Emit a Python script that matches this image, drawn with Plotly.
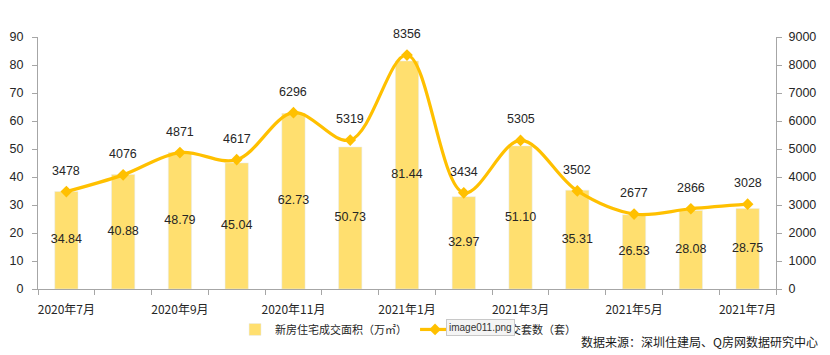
import plotly.graph_objects as go

months = ["2020年7月", "2020年8月", "2020年9月", "2020年10月", "2020年11月", "2020年12月",
          "2021年1月", "2021年2月", "2021年3月", "2021年4月", "2021年5月", "2021年6月", "2021年7月"]
area = [34.84, 40.88, 48.79, 45.04, 62.73, 50.73, 81.44, 32.97, 51.10, 35.31, 26.53, 28.08, 28.75]
units = [3478, 4076, 4871, 4617, 6296, 5319, 8356, 3434, 5305, 3502, 2677, 2866, 3028]
area_labels = ["34.84", "40.88", "48.79", "45.04", "62.73", "50.73", "81.44", "32.97", "51.10", "35.31", "26.53", "28.08", "28.75"]
left_ticks = [0, 10, 20, 30, 40, 50, 60, 70, 80, 90]
right_ticks = [0, 1000, 2000, 3000, 4000, 5000, 6000, 7000, 8000, 9000]

xs = list(range(len(months)))
BAR = "#FFDF6F"
LINE = "#FFC000"
TXT = "#262626"
AX = "#A6A6A6"
FONT = "Liberation Sans, Noto Sans CJK SC, sans-serif"
CJK = "Noto Sans CJK SC, sans-serif"

fig = go.Figure()
fig.add_trace(go.Bar(x=xs, y=area, name="新房住宅成交面积（万㎡）", marker_color=BAR,
                     width=0.41, yaxis="y"))
fig.add_trace(go.Scatter(x=xs, y=[v / 2 for v in area], mode="text", text=area_labels,
                         textfont=dict(size=12.5, color=TXT, family=FONT), showlegend=False,
                         hoverinfo="skip", yaxis="y"))
fig.add_trace(go.Scatter(x=xs, y=units, name="新房住宅成交套数（套）", mode="lines+markers",
                         line=dict(color=LINE, width=3.2, shape="spline", smoothing=1.0),
                         marker=dict(symbol="diamond", size=9, color=LINE),
                         yaxis="y2"))

for x, v in zip(xs, units):
    fig.add_annotation(x=x, y=v, yref="y2", xref="x", text=str(v), showarrow=False,
                       yshift=21, yanchor="middle",
                       font=dict(size=12.5, color=TXT, family=FONT))

fig.add_annotation(xref="paper", yref="paper", x=0.600, y=-0.185, text="image011.png",
                   showarrow=False, font=dict(size=10, color="#333333", family=FONT),
                   bgcolor="#F4F4F4", bordercolor="#C8C8C8", borderwidth=1, borderpad=2)
fig.add_annotation(xref="paper", yref="paper", x=1.0596, y=-0.210, xanchor="right",
                   yanchor="middle",
                   text="数据来源：深圳住建局、Q房网数据研究中心", showarrow=False,
                   font=dict(size=12, color="#1a1a1a", family=CJK))

# page has an 8px body margin, so the figure is drawn 8px smaller and offset
fig.update_layout(
    width=822, height=347,
    margin=dict(l=30, r=54, t=29, b=66, autoexpand=False),
    paper_bgcolor="white", plot_bgcolor="white",
    font=dict(family=FONT, color=TXT, size=12),
    showlegend=True,
    legend=dict(orientation="h", x=0.267, y=-0.103, xanchor="left", yanchor="top",
                font=dict(size=11, family=CJK, color=TXT), bgcolor="rgba(0,0,0,0)",
                itemwidth=30, entrywidth=135, entrywidthmode="pixels", tracegroupgap=0),
    xaxis=dict(range=[-0.5, 12.5], tickmode="array", tickvals=xs[::2], ticktext=months[::2],
               ticks="", showline=True, linecolor=AX, linewidth=1, automargin=False,
               ticklabelstandoff=10,
               tickfont=dict(size=12, family=CJK, color=TXT), showgrid=False, zeroline=False,
               minor=dict(tickmode="array", tickvals=[x - 0.5 for x in xs] + [12.5],
                          ticks="outside", ticklen=5, tickcolor=AX, showgrid=False)),
    yaxis=dict(range=[0, 90], tickmode="array", tickvals=left_ticks, ticks="outside",
               ticklen=5, tickcolor=AX, showline=True, linecolor=AX, automargin=False,
               ticklabelstandoff=6,
               showgrid=False, zeroline=False, tickfont=dict(size=12.5, color=TXT)),
    yaxis2=dict(range=[0, 9000], tickmode="array", tickvals=right_ticks, overlaying="y",
                side="right", ticks="outside", ticklen=5, tickcolor=AX, showline=True,
                linecolor=AX, showgrid=False, zeroline=False, automargin=False,
                ticklabelstandoff=4,
                tickfont=dict(size=12.5, color=TXT)),
)

fig.write_html("out.html")
